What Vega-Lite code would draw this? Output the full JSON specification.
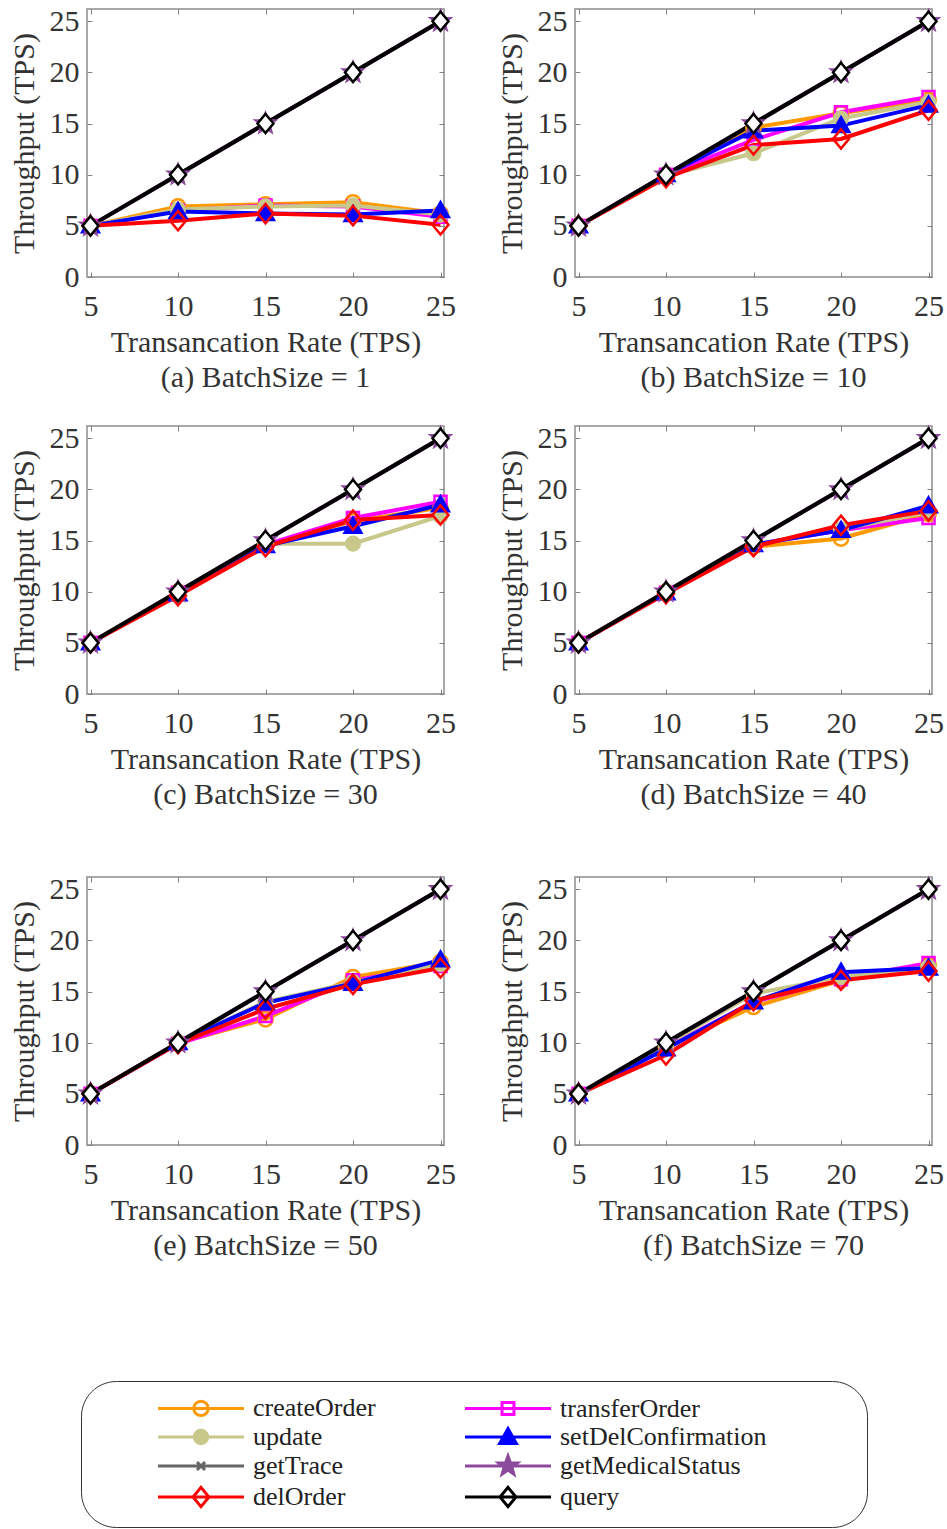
{
"$schema": "https://vega.github.io/schema/vega-lite/v6.json",
"padding": {"left": 8, "top": 5, "right": 0, "bottom": 0},
"background": "white",
"datasets": {"d": [
{"panel":"a","op":"createOrder","rate":5,"tps":5},{"panel":"a","op":"createOrder","rate":10,"tps":6.9},{"panel":"a","op":"createOrder","rate":15,"tps":7.1},{"panel":"a","op":"createOrder","rate":20,"tps":7.3},{"panel":"a","op":"createOrder","rate":25,"tps":6.2},
{"panel":"a","op":"transferOrder","rate":5,"tps":5},{"panel":"a","op":"transferOrder","rate":10,"tps":6.5},{"panel":"a","op":"transferOrder","rate":15,"tps":7.0},{"panel":"a","op":"transferOrder","rate":20,"tps":6.9},{"panel":"a","op":"transferOrder","rate":25,"tps":5.9},
{"panel":"a","op":"update","rate":5,"tps":5},{"panel":"a","op":"update","rate":10,"tps":6.6},{"panel":"a","op":"update","rate":15,"tps":6.9},{"panel":"a","op":"update","rate":20,"tps":7.0},{"panel":"a","op":"update","rate":25,"tps":6.1},
{"panel":"a","op":"setDelConfirmation","rate":5,"tps":5},{"panel":"a","op":"setDelConfirmation","rate":10,"tps":6.4},{"panel":"a","op":"setDelConfirmation","rate":15,"tps":6.2},{"panel":"a","op":"setDelConfirmation","rate":20,"tps":6.1},{"panel":"a","op":"setDelConfirmation","rate":25,"tps":6.5},
{"panel":"a","op":"getTrace","rate":5,"tps":5},{"panel":"a","op":"getTrace","rate":10,"tps":10},{"panel":"a","op":"getTrace","rate":15,"tps":15},{"panel":"a","op":"getTrace","rate":20,"tps":20},{"panel":"a","op":"getTrace","rate":25,"tps":25},
{"panel":"a","op":"getMedicalStatus","rate":5,"tps":5},{"panel":"a","op":"getMedicalStatus","rate":10,"tps":10},{"panel":"a","op":"getMedicalStatus","rate":15,"tps":15},{"panel":"a","op":"getMedicalStatus","rate":20,"tps":20},{"panel":"a","op":"getMedicalStatus","rate":25,"tps":25},
{"panel":"a","op":"delOrder","rate":5,"tps":5},{"panel":"a","op":"delOrder","rate":10,"tps":5.5},{"panel":"a","op":"delOrder","rate":15,"tps":6.2},{"panel":"a","op":"delOrder","rate":20,"tps":6.0},{"panel":"a","op":"delOrder","rate":25,"tps":5.1},
{"panel":"a","op":"query","rate":5,"tps":5},{"panel":"a","op":"query","rate":10,"tps":10},{"panel":"a","op":"query","rate":15,"tps":15},{"panel":"a","op":"query","rate":20,"tps":20},{"panel":"a","op":"query","rate":25,"tps":25},

{"panel":"b","op":"createOrder","rate":5,"tps":5},{"panel":"b","op":"createOrder","rate":10,"tps":10},{"panel":"b","op":"createOrder","rate":15,"tps":14.6},{"panel":"b","op":"createOrder","rate":20,"tps":16.0},{"panel":"b","op":"createOrder","rate":25,"tps":17.3},
{"panel":"b","op":"transferOrder","rate":5,"tps":5},{"panel":"b","op":"transferOrder","rate":10,"tps":10},{"panel":"b","op":"transferOrder","rate":15,"tps":13.4},{"panel":"b","op":"transferOrder","rate":20,"tps":16.1},{"panel":"b","op":"transferOrder","rate":25,"tps":17.6},
{"panel":"b","op":"update","rate":5,"tps":5},{"panel":"b","op":"update","rate":10,"tps":9.9},{"panel":"b","op":"update","rate":15,"tps":12.1},{"panel":"b","op":"update","rate":20,"tps":15.5},{"panel":"b","op":"update","rate":25,"tps":17.1},
{"panel":"b","op":"setDelConfirmation","rate":5,"tps":5},{"panel":"b","op":"setDelConfirmation","rate":10,"tps":10},{"panel":"b","op":"setDelConfirmation","rate":15,"tps":14.3},{"panel":"b","op":"setDelConfirmation","rate":20,"tps":14.8},{"panel":"b","op":"setDelConfirmation","rate":25,"tps":16.8},
{"panel":"b","op":"getTrace","rate":5,"tps":5},{"panel":"b","op":"getTrace","rate":10,"tps":10},{"panel":"b","op":"getTrace","rate":15,"tps":15},{"panel":"b","op":"getTrace","rate":20,"tps":20},{"panel":"b","op":"getTrace","rate":25,"tps":25},
{"panel":"b","op":"getMedicalStatus","rate":5,"tps":5},{"panel":"b","op":"getMedicalStatus","rate":10,"tps":10},{"panel":"b","op":"getMedicalStatus","rate":15,"tps":15},{"panel":"b","op":"getMedicalStatus","rate":20,"tps":20},{"panel":"b","op":"getMedicalStatus","rate":25,"tps":25},
{"panel":"b","op":"delOrder","rate":5,"tps":5},{"panel":"b","op":"delOrder","rate":10,"tps":9.7},{"panel":"b","op":"delOrder","rate":15,"tps":12.9},{"panel":"b","op":"delOrder","rate":20,"tps":13.5},{"panel":"b","op":"delOrder","rate":25,"tps":16.3},
{"panel":"b","op":"query","rate":5,"tps":5},{"panel":"b","op":"query","rate":10,"tps":10},{"panel":"b","op":"query","rate":15,"tps":15},{"panel":"b","op":"query","rate":20,"tps":20},{"panel":"b","op":"query","rate":25,"tps":25},

{"panel":"c","op":"createOrder","rate":5,"tps":5},{"panel":"c","op":"createOrder","rate":10,"tps":10},{"panel":"c","op":"createOrder","rate":15,"tps":14.6},{"panel":"c","op":"createOrder","rate":20,"tps":16.9},{"panel":"c","op":"createOrder","rate":25,"tps":18.2},
{"panel":"c","op":"transferOrder","rate":5,"tps":5},{"panel":"c","op":"transferOrder","rate":10,"tps":9.9},{"panel":"c","op":"transferOrder","rate":15,"tps":14.6},{"panel":"c","op":"transferOrder","rate":20,"tps":17.2},{"panel":"c","op":"transferOrder","rate":25,"tps":18.8},
{"panel":"c","op":"update","rate":5,"tps":5},{"panel":"c","op":"update","rate":10,"tps":9.9},{"panel":"c","op":"update","rate":15,"tps":14.7},{"panel":"c","op":"update","rate":20,"tps":14.7},{"panel":"c","op":"update","rate":25,"tps":17.4},
{"panel":"c","op":"setDelConfirmation","rate":5,"tps":5},{"panel":"c","op":"setDelConfirmation","rate":10,"tps":9.8},{"panel":"c","op":"setDelConfirmation","rate":15,"tps":14.5},{"panel":"c","op":"setDelConfirmation","rate":20,"tps":16.4},{"panel":"c","op":"setDelConfirmation","rate":25,"tps":18.5},
{"panel":"c","op":"getTrace","rate":5,"tps":5},{"panel":"c","op":"getTrace","rate":10,"tps":10},{"panel":"c","op":"getTrace","rate":15,"tps":15},{"panel":"c","op":"getTrace","rate":20,"tps":20},{"panel":"c","op":"getTrace","rate":25,"tps":25},
{"panel":"c","op":"getMedicalStatus","rate":5,"tps":5},{"panel":"c","op":"getMedicalStatus","rate":10,"tps":10},{"panel":"c","op":"getMedicalStatus","rate":15,"tps":15},{"panel":"c","op":"getMedicalStatus","rate":20,"tps":20},{"panel":"c","op":"getMedicalStatus","rate":25,"tps":25},
{"panel":"c","op":"delOrder","rate":5,"tps":5},{"panel":"c","op":"delOrder","rate":10,"tps":9.6},{"panel":"c","op":"delOrder","rate":15,"tps":14.4},{"panel":"c","op":"delOrder","rate":20,"tps":17.0},{"panel":"c","op":"delOrder","rate":25,"tps":17.5},
{"panel":"c","op":"query","rate":5,"tps":5},{"panel":"c","op":"query","rate":10,"tps":10},{"panel":"c","op":"query","rate":15,"tps":15},{"panel":"c","op":"query","rate":20,"tps":20},{"panel":"c","op":"query","rate":25,"tps":25},

{"panel":"d","op":"createOrder","rate":5,"tps":5},{"panel":"d","op":"createOrder","rate":10,"tps":10},{"panel":"d","op":"createOrder","rate":15,"tps":14.4},{"panel":"d","op":"createOrder","rate":20,"tps":15.2},{"panel":"d","op":"createOrder","rate":25,"tps":17.6},
{"panel":"d","op":"transferOrder","rate":5,"tps":5},{"panel":"d","op":"transferOrder","rate":10,"tps":9.9},{"panel":"d","op":"transferOrder","rate":15,"tps":14.6},{"panel":"d","op":"transferOrder","rate":20,"tps":16.0},{"panel":"d","op":"transferOrder","rate":25,"tps":17.2},
{"panel":"d","op":"update","rate":5,"tps":5},{"panel":"d","op":"update","rate":10,"tps":9.9},{"panel":"d","op":"update","rate":15,"tps":14.6},{"panel":"d","op":"update","rate":20,"tps":16.1},{"panel":"d","op":"update","rate":25,"tps":17.8},
{"panel":"d","op":"setDelConfirmation","rate":5,"tps":5},{"panel":"d","op":"setDelConfirmation","rate":10,"tps":9.9},{"panel":"d","op":"setDelConfirmation","rate":15,"tps":14.6},{"panel":"d","op":"setDelConfirmation","rate":20,"tps":16.0},{"panel":"d","op":"setDelConfirmation","rate":25,"tps":18.4},
{"panel":"d","op":"getTrace","rate":5,"tps":5},{"panel":"d","op":"getTrace","rate":10,"tps":10},{"panel":"d","op":"getTrace","rate":15,"tps":15},{"panel":"d","op":"getTrace","rate":20,"tps":20},{"panel":"d","op":"getTrace","rate":25,"tps":25},
{"panel":"d","op":"getMedicalStatus","rate":5,"tps":5},{"panel":"d","op":"getMedicalStatus","rate":10,"tps":10},{"panel":"d","op":"getMedicalStatus","rate":15,"tps":15},{"panel":"d","op":"getMedicalStatus","rate":20,"tps":20},{"panel":"d","op":"getMedicalStatus","rate":25,"tps":25},
{"panel":"d","op":"delOrder","rate":5,"tps":5},{"panel":"d","op":"delOrder","rate":10,"tps":9.8},{"panel":"d","op":"delOrder","rate":15,"tps":14.4},{"panel":"d","op":"delOrder","rate":20,"tps":16.5},{"panel":"d","op":"delOrder","rate":25,"tps":17.9},
{"panel":"d","op":"query","rate":5,"tps":5},{"panel":"d","op":"query","rate":10,"tps":10},{"panel":"d","op":"query","rate":15,"tps":15},{"panel":"d","op":"query","rate":20,"tps":20},{"panel":"d","op":"query","rate":25,"tps":25},

{"panel":"e","op":"createOrder","rate":5,"tps":5},{"panel":"e","op":"createOrder","rate":10,"tps":10},{"panel":"e","op":"createOrder","rate":15,"tps":12.3},{"panel":"e","op":"createOrder","rate":20,"tps":16.4},{"panel":"e","op":"createOrder","rate":25,"tps":17.9},
{"panel":"e","op":"transferOrder","rate":5,"tps":5},{"panel":"e","op":"transferOrder","rate":10,"tps":9.9},{"panel":"e","op":"transferOrder","rate":15,"tps":12.6},{"panel":"e","op":"transferOrder","rate":20,"tps":16.1},{"panel":"e","op":"transferOrder","rate":25,"tps":17.5},
{"panel":"e","op":"update","rate":5,"tps":5},{"panel":"e","op":"update","rate":10,"tps":10},{"panel":"e","op":"update","rate":15,"tps":14.0},{"panel":"e","op":"update","rate":20,"tps":15.9},{"panel":"e","op":"update","rate":25,"tps":17.7},
{"panel":"e","op":"setDelConfirmation","rate":5,"tps":5},{"panel":"e","op":"setDelConfirmation","rate":10,"tps":10},{"panel":"e","op":"setDelConfirmation","rate":15,"tps":13.9},{"panel":"e","op":"setDelConfirmation","rate":20,"tps":15.8},{"panel":"e","op":"setDelConfirmation","rate":25,"tps":18.1},
{"panel":"e","op":"getTrace","rate":5,"tps":5},{"panel":"e","op":"getTrace","rate":10,"tps":10},{"panel":"e","op":"getTrace","rate":15,"tps":15},{"panel":"e","op":"getTrace","rate":20,"tps":20},{"panel":"e","op":"getTrace","rate":25,"tps":25},
{"panel":"e","op":"getMedicalStatus","rate":5,"tps":5},{"panel":"e","op":"getMedicalStatus","rate":10,"tps":10},{"panel":"e","op":"getMedicalStatus","rate":15,"tps":15},{"panel":"e","op":"getMedicalStatus","rate":20,"tps":20},{"panel":"e","op":"getMedicalStatus","rate":25,"tps":25},
{"panel":"e","op":"delOrder","rate":5,"tps":5},{"panel":"e","op":"delOrder","rate":10,"tps":9.9},{"panel":"e","op":"delOrder","rate":15,"tps":13.3},{"panel":"e","op":"delOrder","rate":20,"tps":15.7},{"panel":"e","op":"delOrder","rate":25,"tps":17.3},
{"panel":"e","op":"query","rate":5,"tps":5},{"panel":"e","op":"query","rate":10,"tps":10},{"panel":"e","op":"query","rate":15,"tps":15},{"panel":"e","op":"query","rate":20,"tps":20},{"panel":"e","op":"query","rate":25,"tps":25},

{"panel":"f","op":"createOrder","rate":5,"tps":5},{"panel":"f","op":"createOrder","rate":10,"tps":9.6},{"panel":"f","op":"createOrder","rate":15,"tps":13.5},{"panel":"f","op":"createOrder","rate":20,"tps":16.1},{"panel":"f","op":"createOrder","rate":25,"tps":17.6},
{"panel":"f","op":"transferOrder","rate":5,"tps":5},{"panel":"f","op":"transferOrder","rate":10,"tps":9.5},{"panel":"f","op":"transferOrder","rate":15,"tps":14.0},{"panel":"f","op":"transferOrder","rate":20,"tps":16.2},{"panel":"f","op":"transferOrder","rate":25,"tps":17.8},
{"panel":"f","op":"update","rate":5,"tps":5},{"panel":"f","op":"update","rate":10,"tps":9.8},{"panel":"f","op":"update","rate":15,"tps":14.8},{"panel":"f","op":"update","rate":20,"tps":16.4},{"panel":"f","op":"update","rate":25,"tps":17.4},
{"panel":"f","op":"setDelConfirmation","rate":5,"tps":5},{"panel":"f","op":"setDelConfirmation","rate":10,"tps":9.4},{"panel":"f","op":"setDelConfirmation","rate":15,"tps":14.0},{"panel":"f","op":"setDelConfirmation","rate":20,"tps":16.9},{"panel":"f","op":"setDelConfirmation","rate":25,"tps":17.3},
{"panel":"f","op":"getTrace","rate":5,"tps":5},{"panel":"f","op":"getTrace","rate":10,"tps":10},{"panel":"f","op":"getTrace","rate":15,"tps":15},{"panel":"f","op":"getTrace","rate":20,"tps":20},{"panel":"f","op":"getTrace","rate":25,"tps":25},
{"panel":"f","op":"getMedicalStatus","rate":5,"tps":5},{"panel":"f","op":"getMedicalStatus","rate":10,"tps":10},{"panel":"f","op":"getMedicalStatus","rate":15,"tps":15},{"panel":"f","op":"getMedicalStatus","rate":20,"tps":20},{"panel":"f","op":"getMedicalStatus","rate":25,"tps":25},
{"panel":"f","op":"delOrder","rate":5,"tps":5},{"panel":"f","op":"delOrder","rate":10,"tps":8.8},{"panel":"f","op":"delOrder","rate":15,"tps":14.1},{"panel":"f","op":"delOrder","rate":20,"tps":16.1},{"panel":"f","op":"delOrder","rate":25,"tps":17.0},
{"panel":"f","op":"query","rate":5,"tps":5},{"panel":"f","op":"query","rate":10,"tps":10},{"panel":"f","op":"query","rate":15,"tps":15},{"panel":"f","op":"query","rate":20,"tps":20},{"panel":"f","op":"query","rate":25,"tps":25}
]},
"data": {"name": "d"},
"vconcat": [
 {"vconcat": [
  {"hconcat": [
   {"width":357,"height":268,"title":{"text":"(a) BatchSize = 1"},"transform":[{"filter":"datum.panel === 'a'"}],
    "layer":[
     {"mark":{"type":"line","strokeWidth":4},"encoding":{
      "x":{"field":"rate","type":"quantitative","scale":{"domain":[4.8,25.2],"nice":false,"zero":false},"axis":{"values":[5,10,15,20,25],"title":"Transancation Rate (TPS)"}},
      "y":{"field":"tps","type":"quantitative","scale":{"domain":[0,26.2],"nice":false,"zero":false},"axis":{"values":[0,5,10,15,20,25],"title":"Throughput (TPS)"}},
      "stroke":{"field":"op","type":"nominal","title":"\u00a0","scale":{"domain":["createOrder","update","getTrace","delOrder","transferOrder","setDelConfirmation","getMedicalStatus","query"],"range":["#FF9900","#C8C88A","#666666","#FF0000","#FF00FF","#0000FF","#8B4A9C","#000000"]},
       "legend":{"encode":{"symbols":{"update":{
        "shape":{"signal":"'M-5.375,0H5.375' + (datum.value === 'createOrder' ? 'M0.9,0A0.9,0.9 0 1,1 -0.9,0A0.9,0.9 0 1,1 0.9,0Z' : datum.value === 'transferOrder' ? 'M-0.75,-0.75H0.75V0.75H-0.75Z' : datum.value === 'update' ? 'M0.85,0A0.85,0.85 0 1,1 -0.85,0A0.85,0.85 0 1,1 0.85,0Z' : datum.value === 'setDelConfirmation' ? 'M0,-1.05L1.05,0.8H-1.05Z' : datum.value === 'getTrace' ? 'M-0.5,-0.5L0.5,0.5M-0.5,0.5L0.5,-0.5' : datum.value === 'getMedicalStatus' ? 'M0,-1.25L0.3,-0.41L1.19,-0.39L0.49,0.16L0.73,1.01L0,0.51L-0.73,1.01L-0.49,0.16L-1.19,-0.39L-0.3,-0.41Z' : 'M0,-1.2L1,0L0,1.2L-1,0Z')"}}}}}}}},
     {"mark":{"type":"point","size":256,"strokeWidth":2.5,"opacity":1},"encoding":{
      "x":{"field":"rate","type":"quantitative","axis":{"orient":"top","labels":false,"title":null,"values":[5,10,15,20,25]}},
      "y":{"field":"tps","type":"quantitative","axis":{"orient":"right","labels":false,"title":null,"values":[0,5,10,15,20,25]}},
      "stroke":{"field":"op","type":"nominal","title":"\u00a0","scale":{"domain":["createOrder","update","getTrace","delOrder","transferOrder","setDelConfirmation","getMedicalStatus","query"],"range":["#FF9900","#C8C88A","#666666","#FF0000","#FF00FF","#0000FF","#8B4A9C","#000000"]}},
      "fill":{"field":"op","type":"nominal","title":"\u00a0","scale":{"domain":["createOrder","update","getTrace","delOrder","transferOrder","setDelConfirmation","getMedicalStatus","query"],"range":["transparent","#C8C88A","transparent","transparent","transparent","#0000FF","#8B4A9C","#ffffff"]}},
      "shape":{"field":"op","type":"nominal","legend":null,"scale":{"domain":["createOrder","transferOrder","update","setDelConfirmation","getTrace","getMedicalStatus","delOrder","query"],"range":["M0.9,0A0.9,0.9 0 1,1 -0.9,0A0.9,0.9 0 1,1 0.9,0Z","M-0.75,-0.75H0.75V0.75H-0.75Z","M0.85,0A0.85,0.85 0 1,1 -0.85,0A0.85,0.85 0 1,1 0.85,0Z","M0,-1.05L1.05,0.8H-1.05Z","M-0.5,-0.5L0.5,0.5M-0.5,0.5L0.5,-0.5","M0,-1.25L0.3,-0.41L1.19,-0.39L0.49,0.16L0.73,1.01L0,0.51L-0.73,1.01L-0.49,0.16L-1.19,-0.39L-0.3,-0.41Z","M0,-1.2L1,0L0,1.2L-1,0Z","M0,-1.2L1,0L0,1.2L-1,0Z"]}}}}
    ],
    "resolve":{"axis":{"x":"independent","y":"independent"}}},
   {"width":357,"height":268,"title":{"text":"(b) BatchSize = 10"},"transform":[{"filter":"datum.panel === 'b'"}],
    "layer":[
     {"mark":{"type":"line","strokeWidth":4},"encoding":{
      "x":{"field":"rate","type":"quantitative","scale":{"domain":[4.8,25.2],"nice":false,"zero":false},"axis":{"values":[5,10,15,20,25],"title":"Transancation Rate (TPS)"}},
      "y":{"field":"tps","type":"quantitative","scale":{"domain":[0,26.2],"nice":false,"zero":false},"axis":{"values":[0,5,10,15,20,25],"title":"Throughput (TPS)"}},
      "stroke":{"field":"op","type":"nominal","title":"\u00a0","scale":{"domain":["createOrder","update","getTrace","delOrder","transferOrder","setDelConfirmation","getMedicalStatus","query"],"range":["#FF9900","#C8C88A","#666666","#FF0000","#FF00FF","#0000FF","#8B4A9C","#000000"]}}}},
     {"mark":{"type":"point","size":256,"strokeWidth":2.5,"opacity":1},"encoding":{
      "x":{"field":"rate","type":"quantitative","axis":{"orient":"top","labels":false,"title":null,"values":[5,10,15,20,25]}},
      "y":{"field":"tps","type":"quantitative","axis":{"orient":"right","labels":false,"title":null,"values":[0,5,10,15,20,25]}},
      "stroke":{"field":"op","type":"nominal","title":"\u00a0","scale":{"domain":["createOrder","update","getTrace","delOrder","transferOrder","setDelConfirmation","getMedicalStatus","query"],"range":["#FF9900","#C8C88A","#666666","#FF0000","#FF00FF","#0000FF","#8B4A9C","#000000"]}},
      "fill":{"field":"op","type":"nominal","title":"\u00a0","scale":{"domain":["createOrder","update","getTrace","delOrder","transferOrder","setDelConfirmation","getMedicalStatus","query"],"range":["transparent","#C8C88A","transparent","transparent","transparent","#0000FF","#8B4A9C","#ffffff"]}},
      "shape":{"field":"op","type":"nominal","legend":null,"scale":{"domain":["createOrder","transferOrder","update","setDelConfirmation","getTrace","getMedicalStatus","delOrder","query"],"range":["M0.9,0A0.9,0.9 0 1,1 -0.9,0A0.9,0.9 0 1,1 0.9,0Z","M-0.75,-0.75H0.75V0.75H-0.75Z","M0.85,0A0.85,0.85 0 1,1 -0.85,0A0.85,0.85 0 1,1 0.85,0Z","M0,-1.05L1.05,0.8H-1.05Z","M-0.5,-0.5L0.5,0.5M-0.5,0.5L0.5,-0.5","M0,-1.25L0.3,-0.41L1.19,-0.39L0.49,0.16L0.73,1.01L0,0.51L-0.73,1.01L-0.49,0.16L-1.19,-0.39L-0.3,-0.41Z","M0,-1.2L1,0L0,1.2L-1,0Z","M0,-1.2L1,0L0,1.2L-1,0Z"]}}}}
    ],
    "resolve":{"axis":{"x":"independent","y":"independent"}}}
  ], "spacing": 39},
  {"hconcat": [
   {"width":357,"height":268,"title":{"text":"(c) BatchSize = 30"},"transform":[{"filter":"datum.panel === 'c'"}],
    "layer":[
     {"mark":{"type":"line","strokeWidth":4},"encoding":{
      "x":{"field":"rate","type":"quantitative","scale":{"domain":[4.8,25.2],"nice":false,"zero":false},"axis":{"values":[5,10,15,20,25],"title":"Transancation Rate (TPS)"}},
      "y":{"field":"tps","type":"quantitative","scale":{"domain":[0,26.2],"nice":false,"zero":false},"axis":{"values":[0,5,10,15,20,25],"title":"Throughput (TPS)"}},
      "stroke":{"field":"op","type":"nominal","title":"\u00a0","scale":{"domain":["createOrder","update","getTrace","delOrder","transferOrder","setDelConfirmation","getMedicalStatus","query"],"range":["#FF9900","#C8C88A","#666666","#FF0000","#FF00FF","#0000FF","#8B4A9C","#000000"]}}}},
     {"mark":{"type":"point","size":256,"strokeWidth":2.5,"opacity":1},"encoding":{
      "x":{"field":"rate","type":"quantitative","axis":{"orient":"top","labels":false,"title":null,"values":[5,10,15,20,25]}},
      "y":{"field":"tps","type":"quantitative","axis":{"orient":"right","labels":false,"title":null,"values":[0,5,10,15,20,25]}},
      "stroke":{"field":"op","type":"nominal","title":"\u00a0","scale":{"domain":["createOrder","update","getTrace","delOrder","transferOrder","setDelConfirmation","getMedicalStatus","query"],"range":["#FF9900","#C8C88A","#666666","#FF0000","#FF00FF","#0000FF","#8B4A9C","#000000"]}},
      "fill":{"field":"op","type":"nominal","title":"\u00a0","scale":{"domain":["createOrder","update","getTrace","delOrder","transferOrder","setDelConfirmation","getMedicalStatus","query"],"range":["transparent","#C8C88A","transparent","transparent","transparent","#0000FF","#8B4A9C","#ffffff"]}},
      "shape":{"field":"op","type":"nominal","legend":null,"scale":{"domain":["createOrder","transferOrder","update","setDelConfirmation","getTrace","getMedicalStatus","delOrder","query"],"range":["M0.9,0A0.9,0.9 0 1,1 -0.9,0A0.9,0.9 0 1,1 0.9,0Z","M-0.75,-0.75H0.75V0.75H-0.75Z","M0.85,0A0.85,0.85 0 1,1 -0.85,0A0.85,0.85 0 1,1 0.85,0Z","M0,-1.05L1.05,0.8H-1.05Z","M-0.5,-0.5L0.5,0.5M-0.5,0.5L0.5,-0.5","M0,-1.25L0.3,-0.41L1.19,-0.39L0.49,0.16L0.73,1.01L0,0.51L-0.73,1.01L-0.49,0.16L-1.19,-0.39L-0.3,-0.41Z","M0,-1.2L1,0L0,1.2L-1,0Z","M0,-1.2L1,0L0,1.2L-1,0Z"]}}}}
    ],
    "resolve":{"axis":{"x":"independent","y":"independent"}}},
   {"width":357,"height":268,"title":{"text":"(d) BatchSize = 40"},"transform":[{"filter":"datum.panel === 'd'"}],
    "layer":[
     {"mark":{"type":"line","strokeWidth":4},"encoding":{
      "x":{"field":"rate","type":"quantitative","scale":{"domain":[4.8,25.2],"nice":false,"zero":false},"axis":{"values":[5,10,15,20,25],"title":"Transancation Rate (TPS)"}},
      "y":{"field":"tps","type":"quantitative","scale":{"domain":[0,26.2],"nice":false,"zero":false},"axis":{"values":[0,5,10,15,20,25],"title":"Throughput (TPS)"}},
      "stroke":{"field":"op","type":"nominal","title":"\u00a0","scale":{"domain":["createOrder","update","getTrace","delOrder","transferOrder","setDelConfirmation","getMedicalStatus","query"],"range":["#FF9900","#C8C88A","#666666","#FF0000","#FF00FF","#0000FF","#8B4A9C","#000000"]}}}},
     {"mark":{"type":"point","size":256,"strokeWidth":2.5,"opacity":1},"encoding":{
      "x":{"field":"rate","type":"quantitative","axis":{"orient":"top","labels":false,"title":null,"values":[5,10,15,20,25]}},
      "y":{"field":"tps","type":"quantitative","axis":{"orient":"right","labels":false,"title":null,"values":[0,5,10,15,20,25]}},
      "stroke":{"field":"op","type":"nominal","title":"\u00a0","scale":{"domain":["createOrder","update","getTrace","delOrder","transferOrder","setDelConfirmation","getMedicalStatus","query"],"range":["#FF9900","#C8C88A","#666666","#FF0000","#FF00FF","#0000FF","#8B4A9C","#000000"]}},
      "fill":{"field":"op","type":"nominal","title":"\u00a0","scale":{"domain":["createOrder","update","getTrace","delOrder","transferOrder","setDelConfirmation","getMedicalStatus","query"],"range":["transparent","#C8C88A","transparent","transparent","transparent","#0000FF","#8B4A9C","#ffffff"]}},
      "shape":{"field":"op","type":"nominal","legend":null,"scale":{"domain":["createOrder","transferOrder","update","setDelConfirmation","getTrace","getMedicalStatus","delOrder","query"],"range":["M0.9,0A0.9,0.9 0 1,1 -0.9,0A0.9,0.9 0 1,1 0.9,0Z","M-0.75,-0.75H0.75V0.75H-0.75Z","M0.85,0A0.85,0.85 0 1,1 -0.85,0A0.85,0.85 0 1,1 0.85,0Z","M0,-1.05L1.05,0.8H-1.05Z","M-0.5,-0.5L0.5,0.5M-0.5,0.5L0.5,-0.5","M0,-1.25L0.3,-0.41L1.19,-0.39L0.49,0.16L0.73,1.01L0,0.51L-0.73,1.01L-0.49,0.16L-1.19,-0.39L-0.3,-0.41Z","M0,-1.2L1,0L0,1.2L-1,0Z","M0,-1.2L1,0L0,1.2L-1,0Z"]}}}}
    ],
    "resolve":{"axis":{"x":"independent","y":"independent"}}}
  ], "spacing": 39}
 ], "spacing": 28},
 {"hconcat": [
   {"width":357,"height":268,"title":{"text":"(e) BatchSize = 50"},"transform":[{"filter":"datum.panel === 'e'"}],
    "layer":[
     {"mark":{"type":"line","strokeWidth":4},"encoding":{
      "x":{"field":"rate","type":"quantitative","scale":{"domain":[4.8,25.2],"nice":false,"zero":false},"axis":{"values":[5,10,15,20,25],"title":"Transancation Rate (TPS)"}},
      "y":{"field":"tps","type":"quantitative","scale":{"domain":[0,26.2],"nice":false,"zero":false},"axis":{"values":[0,5,10,15,20,25],"title":"Throughput (TPS)"}},
      "stroke":{"field":"op","type":"nominal","title":"\u00a0","scale":{"domain":["createOrder","update","getTrace","delOrder","transferOrder","setDelConfirmation","getMedicalStatus","query"],"range":["#FF9900","#C8C88A","#666666","#FF0000","#FF00FF","#0000FF","#8B4A9C","#000000"]}}}},
     {"mark":{"type":"point","size":256,"strokeWidth":2.5,"opacity":1},"encoding":{
      "x":{"field":"rate","type":"quantitative","axis":{"orient":"top","labels":false,"title":null,"values":[5,10,15,20,25]}},
      "y":{"field":"tps","type":"quantitative","axis":{"orient":"right","labels":false,"title":null,"values":[0,5,10,15,20,25]}},
      "stroke":{"field":"op","type":"nominal","title":"\u00a0","scale":{"domain":["createOrder","update","getTrace","delOrder","transferOrder","setDelConfirmation","getMedicalStatus","query"],"range":["#FF9900","#C8C88A","#666666","#FF0000","#FF00FF","#0000FF","#8B4A9C","#000000"]}},
      "fill":{"field":"op","type":"nominal","title":"\u00a0","scale":{"domain":["createOrder","update","getTrace","delOrder","transferOrder","setDelConfirmation","getMedicalStatus","query"],"range":["transparent","#C8C88A","transparent","transparent","transparent","#0000FF","#8B4A9C","#ffffff"]}},
      "shape":{"field":"op","type":"nominal","legend":null,"scale":{"domain":["createOrder","transferOrder","update","setDelConfirmation","getTrace","getMedicalStatus","delOrder","query"],"range":["M0.9,0A0.9,0.9 0 1,1 -0.9,0A0.9,0.9 0 1,1 0.9,0Z","M-0.75,-0.75H0.75V0.75H-0.75Z","M0.85,0A0.85,0.85 0 1,1 -0.85,0A0.85,0.85 0 1,1 0.85,0Z","M0,-1.05L1.05,0.8H-1.05Z","M-0.5,-0.5L0.5,0.5M-0.5,0.5L0.5,-0.5","M0,-1.25L0.3,-0.41L1.19,-0.39L0.49,0.16L0.73,1.01L0,0.51L-0.73,1.01L-0.49,0.16L-1.19,-0.39L-0.3,-0.41Z","M0,-1.2L1,0L0,1.2L-1,0Z","M0,-1.2L1,0L0,1.2L-1,0Z"]}}}}
    ],
    "resolve":{"axis":{"x":"independent","y":"independent"}}},
   {"width":357,"height":268,"title":{"text":"(f) BatchSize = 70"},"transform":[{"filter":"datum.panel === 'f'"}],
    "layer":[
     {"mark":{"type":"line","strokeWidth":4},"encoding":{
      "x":{"field":"rate","type":"quantitative","scale":{"domain":[4.8,25.2],"nice":false,"zero":false},"axis":{"values":[5,10,15,20,25],"title":"Transancation Rate (TPS)"}},
      "y":{"field":"tps","type":"quantitative","scale":{"domain":[0,26.2],"nice":false,"zero":false},"axis":{"values":[0,5,10,15,20,25],"title":"Throughput (TPS)"}},
      "stroke":{"field":"op","type":"nominal","title":"\u00a0","scale":{"domain":["createOrder","update","getTrace","delOrder","transferOrder","setDelConfirmation","getMedicalStatus","query"],"range":["#FF9900","#C8C88A","#666666","#FF0000","#FF00FF","#0000FF","#8B4A9C","#000000"]}}}},
     {"mark":{"type":"point","size":256,"strokeWidth":2.5,"opacity":1},"encoding":{
      "x":{"field":"rate","type":"quantitative","axis":{"orient":"top","labels":false,"title":null,"values":[5,10,15,20,25]}},
      "y":{"field":"tps","type":"quantitative","axis":{"orient":"right","labels":false,"title":null,"values":[0,5,10,15,20,25]}},
      "stroke":{"field":"op","type":"nominal","title":"\u00a0","scale":{"domain":["createOrder","update","getTrace","delOrder","transferOrder","setDelConfirmation","getMedicalStatus","query"],"range":["#FF9900","#C8C88A","#666666","#FF0000","#FF00FF","#0000FF","#8B4A9C","#000000"]}},
      "fill":{"field":"op","type":"nominal","title":"\u00a0","scale":{"domain":["createOrder","update","getTrace","delOrder","transferOrder","setDelConfirmation","getMedicalStatus","query"],"range":["transparent","#C8C88A","transparent","transparent","transparent","#0000FF","#8B4A9C","#ffffff"]}},
      "shape":{"field":"op","type":"nominal","legend":null,"scale":{"domain":["createOrder","transferOrder","update","setDelConfirmation","getTrace","getMedicalStatus","delOrder","query"],"range":["M0.9,0A0.9,0.9 0 1,1 -0.9,0A0.9,0.9 0 1,1 0.9,0Z","M-0.75,-0.75H0.75V0.75H-0.75Z","M0.85,0A0.85,0.85 0 1,1 -0.85,0A0.85,0.85 0 1,1 0.85,0Z","M0,-1.05L1.05,0.8H-1.05Z","M-0.5,-0.5L0.5,0.5M-0.5,0.5L0.5,-0.5","M0,-1.25L0.3,-0.41L1.19,-0.39L0.49,0.16L0.73,1.01L0,0.51L-0.73,1.01L-0.49,0.16L-1.19,-0.39L-0.3,-0.41Z","M0,-1.2L1,0L0,1.2L-1,0Z","M0,-1.2L1,0L0,1.2L-1,0Z"]}}}}
    ],
    "resolve":{"axis":{"x":"independent","y":"independent"}}}
 ], "spacing": 39}
],
"spacing": 62,
"config": {
 "font": "Liberation Serif",
 "view": {"stroke": "#8c8c8c", "strokeWidth": 1.5},
 "axis": {"labelFont":"Liberation Serif","labelFontSize":30,"labelColor":"#333333","titleFont":"Liberation Serif","titleFontSize":30,"titleFontWeight":"normal","titleColor":"#333333","tickColor":"#808080","tickSize":-5,"tickWidth":1,"domain":false,"grid":false,"labelFlush":false},
 "axisX": {"labelPadding":19,"titlePadding":6},
 "axisY": {"labelPadding":13,"titlePadding":10},
 "title": {"orient":"bottom","font":"Liberation Serif","fontSize":30,"fontWeight":"normal","color":"#333333","offset":6,"anchor":"middle"},
 "legend": {"orient":"none","legendX":-6,"legendY":1372,"columns":2,"padding":14,"strokeColor":"#333333","cornerRadius":35,"fillColor":"#ffffff","labelFont":"Liberation Serif","labelFontSize":26,"labelColor":"#222222","labelLimit":400,"symbolSize":256,"symbolStrokeWidth":3,"symbolOffset":93,"labelOffset":39,"rowPadding":0,"columnPadding":26,"titleOrient":"right","titlePadding":86,"titleFontSize":2}
}
}
